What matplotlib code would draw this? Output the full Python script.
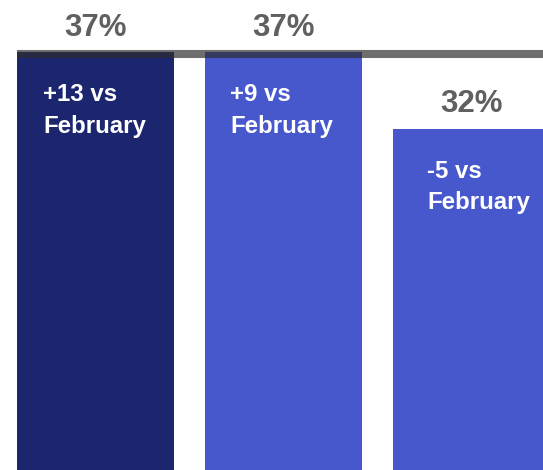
import matplotlib
matplotlib.use("Agg")
import matplotlib.pyplot as plt
import numpy as np

plt.rcParams['font.family'] = ['Liberation Sans', 'DejaVu Sans']

# Data
months = ["bar1", "bar2", "bar3"]
shares = [37, 37, 32]
changes = ["+13", "+9", "-5"]
ref_month = "February"
ref_level = 37

colors = ["#1c266e", "#4658cc", "#4658cc"]

fig = plt.figure(figsize=(5.43, 4.70), dpi=100)
ax = fig.add_axes([0, 0, 1, 1])

x = np.arange(len(shares))
w = 157/188.
ax.bar(x, shares, width=w, color=colors, zorder=1)

# axis window (chart is cropped at the bottom and right)
px_x = 188.  # pixels per category
px_y = 15.3  # pixels per percentage point
left = -95.5/px_x
ax.set_xlim(left, left + 543/px_x)
ax.set_ylim(37 - 418/px_y, 37 + 52/px_y)
ax.axis('off')

# grey reference line drawn over the bar tops
ax.hlines(ref_level - 2/px_y, x[0] - w/2, left + 543/px_x, colors="#2d2d2d",
          alpha=0.69, linewidth=5.8, zorder=3)

# value labels above bars
for xi, v in zip(x, shares):
    ax.annotate("%d%%" % v, (xi, v), xytext=(0, 11.6), textcoords="offset points",
                ha="center", va="baseline", fontsize=22.5, fontweight="bold",
                color="#606060")

# change labels inside bars
text_dx = [26, 25, 34]  # pixels from left bar edge
for xi, v, c, dx in zip(x, shares, changes, text_dx):
    ax.annotate("%s vs\n%s" % (c, ref_month), (xi - w/2, v),
                xytext=(dx*0.72, -80.5*0.72), textcoords="offset points",
                ha="left", va="baseline", fontsize=17.3, fontweight="bold",
                color="white", linespacing=1.47)

fig.savefig("out.png", dpi=100)
